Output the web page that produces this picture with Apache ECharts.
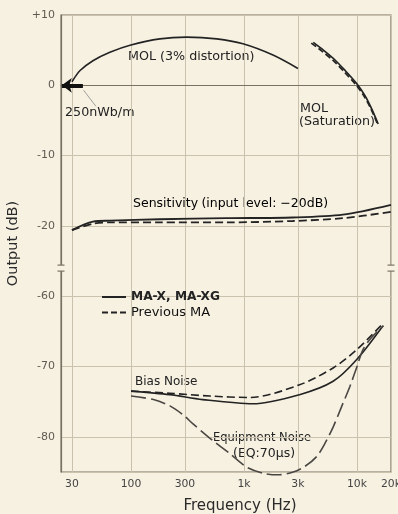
<!DOCTYPE html>
<html>
<head>
<meta charset="utf-8">
<script src="https://cdn.jsdelivr.net/npm/echarts@6/dist/echarts.min.js"></script>
<style>
html,body{margin:0;padding:0;background:#f7f1e2;}
#chart{width:398px;height:514px;}
</style>
</head>
<body>
<div id="chart"></div>
<script>
// Frequency tick labels (Hz)
const freqTicks = [30, 100, 300, 1000, 3000, 10000, 20000];
// Output tick labels (dB) — the axis is broken between -20 and -60
const dbTicks = [10, 0, -10, -20, -60, -70, -80];

// MOL (3% distortion)
const molFreq = [30, 35.4, 46, 65, 98, 180, 311, 574, 979, 1805, 3000];
const molDb   = [0.5, 2.1, 3.5, 4.7, 5.7, 6.6, 6.85, 6.6, 5.9, 4.3, 2.4];

// MOL (Saturation)
const satFreqNew = [4100, 5040, 6390, 7850, 9930, 11800, 13400, 15400];
const satDbNew   = [6.1, 5.0, 3.6, 2.1, 0.25, -1.5, -3.25, -5.5];
const satFreqOld = [3940, 4860, 6180, 7620, 9700, 11600, 13250, 15200];
const satDbOld   = [6.0, 4.9, 3.5, 2.0, 0.15, -1.6, -3.3, -5.5];

// Sensitivity (input level -20dB)
const sensFreq  = [30, 46, 65, 180, 700, 2700, 7500, 20000];
const sensDbNew = [-20.6, -19.4, -19.25, -19.05, -18.9, -18.8, -18.4, -17.0];
const sensDbOld = [-20.6, -19.7, -19.5, -19.5, -19.5, -19.3, -18.9, -18.0];

// Bias noise
const biasFreqNew = [100, 220, 430, 1200, 3100, 6150, 9950, 17000];
const biasDbNew   = [-73.5, -74.0, -74.7, -75.3, -74.0, -72.1, -69.0, -64.2];
const biasFreqOld = [100, 220, 500, 1130, 3100, 6150, 9950, 16700];
const biasDbOld   = [-73.5, -73.8, -74.2, -74.4, -72.6, -70.2, -67.6, -64.0];

// Equipment noise (EQ: 70us)
const eqFreq = [100, 158, 221, 290, 356, 500, 752, 1055, 1500, 2000, 2730, 3460, 4400, 5220,
                6190, 7310, 8670, 9900, 11300, 13400, 17200];
const eqDb   = [-74.2, -74.7, -75.6, -76.9, -78.2, -80.2, -82.4, -84.3, -85.2, -85.4, -85.0, -84.2, -82.8, -80.9,
                -78.5, -75.7, -72.8, -70.2, -67.6, -65.9, -64.2];

// Broken axis: the lower block (-60 … -85) is drawn 30 dB higher
const GAP = 30;
const toAxis = v => (v < -40 ? v + GAP : v);
const fromAxis = d => (d < -25 ? d - GAP : d);
const pts = (f, d) => f.map((x, i) => [x, toAxis(d[i])]);

const FONT = '"DejaVu Sans", "Liberation Sans", sans-serif';
const INK = '#232323';
const FRAME = '#7a7264';
const NOTE = '12.7px ' + FONT;

const chart = echarts.init(document.getElementById('chart'), null, {renderer: 'canvas'});

function lineSeries(name, data, color, width, type, extra) {
  return Object.assign({
    name: name,
    type: 'line',
    data: data,
    smooth: 0.3,
    showSymbol: false,
    symbol: 'none',
    clip: false,
    silent: true,
    lineStyle: {color: color, width: width, type: type},
    itemStyle: {color: color}
  }, extra || {});
}

const option = {
  backgroundColor: '#f7f1e2',
  animation: false,
  grid: {
    left: 61, right: 7, top: 15, bottom: 42,
    outerBoundsMode: 'none', containLabel: false,
    show: true, borderColor: FRAME, borderWidth: 1.2
  },
  legend: {
    data: ['MA-X, MA-XG', 'Previous MA'],
    orient: 'vertical',
    left: 96, top: 286,
    itemWidth: 24, itemHeight: 14, itemGap: 3,
    itemStyle: {opacity: 0},
    formatter: n => (n === 'MA-X, MA-XG' ? '{b|' + n + '}' : '{r|' + n + '}'),
    textStyle: {
      color: INK,
      rich: {
        b: {fontFamily: FONT, fontSize: 12.2, fontWeight: 'bold', color: INK},
        r: {fontFamily: FONT, fontSize: 13, color: '#111'}
      }
    },
    selectedMode: false
  },
  xAxis: {
    type: 'log', logBase: 10, min: 24, max: 20000,
    name: 'Frequency (Hz)', nameLocation: 'middle', nameGap: 27,
    nameTextStyle: {fontFamily: FONT, fontSize: 15, color: '#2a2a2a', padding: [0, 0, 0, 28]},
    axisLine: {show: true, lineStyle: {color: FRAME, width: 1.2}},
    axisTick: {show: false, customValues: freqTicks},
    axisLabel: {
      customValues: freqTicks, fontFamily: FONT, fontSize: 10.8, color: '#444', margin: 7,
      formatter: v => (v >= 1000 ? (v / 1000) + 'k' : String(v))
    },
    splitLine: {show: true, lineStyle: {color: '#cbc2ae', width: 1}}
  },
  yAxis: {
    type: 'value', min: -55, max: 10, minInterval: 10, maxInterval: 10,
    name: 'Output (dB)', nameLocation: 'middle', nameGap: 36, nameRotate: 90,
    nameTextStyle: {fontFamily: FONT, fontSize: 14.5, color: '#2a2a2a'},
    axisLine: {show: true, lineStyle: {color: FRAME, width: 1.2}},
    axisTick: {show: false},
    axisLabel: {
      fontFamily: FONT, fontSize: 11, color: '#5f5a52', margin: 6,
      formatter: d => {
        const v = fromAxis(d);
        if (dbTicks.indexOf(v) < 0) return '';
        return v > 0 ? '+' + v : String(v);
      }
    },
    splitLine: {show: true, lineStyle: {color: '#cbc2ae', width: 1}}
  },
  series: [
    lineSeries('MOL', pts(molFreq, molDb), INK, 1.6, 'solid', {
      markLine: {
        silent: true,
        symbol: ['none', 'arrow'],
        symbolSize: [11, 10],
        label: {show: false},
        lineStyle: {color: '#111', width: 4, type: 'solid'},
        data: [
          [{coord: [37.5, 0]}, {coord: [24.4, 0]}],
          [{coord: [38, -0.7], symbol: 'none', lineStyle: {color: '#888', width: 0.8, type: 'solid'}},
           {coord: [49, -3.0], symbol: 'none'}]
        ]
      }
    }),
    lineSeries('MA-X, MA-XG', pts(satFreqNew, satDbNew), INK, 1.7, 'solid'),
    lineSeries('Previous MA', pts(satFreqOld, satDbOld), INK, 1.7, [6, 3]),
    lineSeries('MA-X, MA-XG', pts(sensFreq, sensDbNew), INK, 1.8, 'solid'),
    lineSeries('Previous MA', pts(sensFreq, sensDbOld), INK, 1.8, [8, 4]),
    lineSeries('MA-X, MA-XG', pts(biasFreqNew, biasDbNew), INK, 1.6, 'solid'),
    lineSeries('Previous MA', pts(biasFreqOld, biasDbOld), INK, 1.6, [8, 4]),
    lineSeries('Equipment Noise', pts(eqFreq, eqDb), '#4a4743', 1.6, [15, 5])
  ],
  graphic: [
    {type: 'text', x: 128, y: 57, silent: true,
     style: {text: 'MOL (3% distortion)', font: NOTE, fill: INK, textVerticalAlign: 'middle'}},
    {type: 'text', x: 65, y: 113, silent: true,
     style: {text: '250nWb/m', font: NOTE, fill: INK, textVerticalAlign: 'middle'}},
    {type: 'text', x: 300, y: 109, silent: true,
     style: {text: 'MOL', font: NOTE, fill: INK, textVerticalAlign: 'middle'}},
    {type: 'text', x: 299, y: 122, silent: true,
     style: {text: '(Saturation)', font: NOTE, fill: INK, textVerticalAlign: 'middle'}},
    {type: 'text', x: 133, y: 204, silent: true,
     style: {
       text: '{a|Sensitivity} {b|(input level: −20dB)}',
       textVerticalAlign: 'middle',
       rich: {
         a: {fontFamily: FONT, fontSize: 12.5, color: '#86807a'},
         b: {fontFamily: FONT, fontSize: 12.5, color: INK}
       }
     }},
    {type: 'text', x: 135, y: 382, silent: true,
     style: {text: 'Bias Noise', font: '12px ' + FONT, fill: INK, textVerticalAlign: 'middle'}},
    {type: 'text', x: 213, y: 438, silent: true,
     style: {text: 'Equipment Noise', font: '11.5px ' + FONT, fill: INK, textVerticalAlign: 'middle'}},
    {type: 'text', x: 233, y: 454, silent: true,
     style: {text: '(EQ:70μs)', font: '12.5px ' + FONT, fill: INK, textVerticalAlign: 'middle'}}
  ]
};

chart.setOption(option);

// Axis-break marks on both vertical axes
(function drawBreaks() {
  const yb = chart.convertToPixel({yAxisIndex: 0}, -26);
  const xl = chart.convertToPixel({xAxisIndex: 0}, 24);
  const xr = chart.convertToPixel({xAxisIndex: 0}, 20000);
  const els = [];
  [xl, xr].forEach(x => {
    els.push({type: 'rect', silent: true, shape: {x: x - 2, y: yb - 3, width: 4, height: 6},
              style: {fill: '#f7f1e2'}, z: 100});
    els.push({type: 'line', silent: true, shape: {x1: x - 3.5, y1: yb - 3, x2: x + 3.5, y2: yb - 3},
              style: {stroke: FRAME, lineWidth: 1.2}, z: 101});
    els.push({type: 'line', silent: true, shape: {x1: x - 3.5, y1: yb + 3, x2: x + 3.5, y2: yb + 3},
              style: {stroke: FRAME, lineWidth: 1.2}, z: 101});
  });
  chart.setOption({graphic: option.graphic.concat(els)});
})();
</script>
</body>
</html>
